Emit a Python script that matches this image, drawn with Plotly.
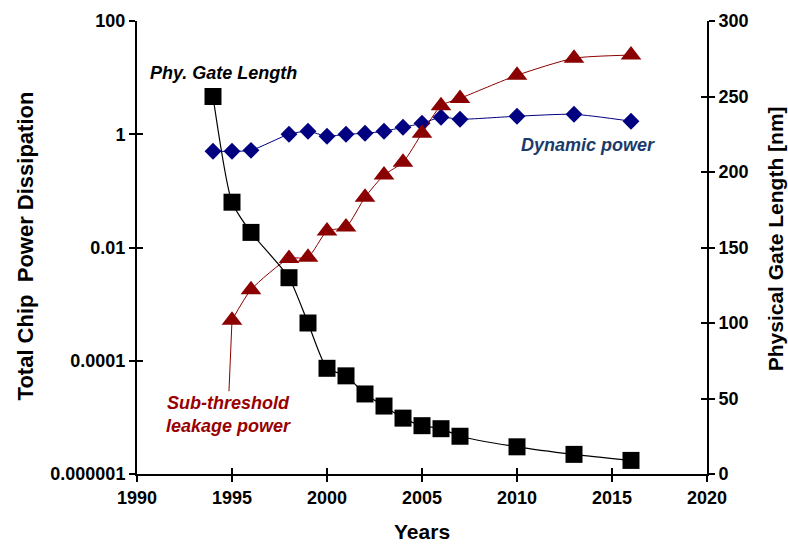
import math
import plotly.graph_objects as go

# ---------------- data ----------------
years = [1994, 1995, 1996, 1998, 1999, 2000, 2001, 2002, 2003, 2004, 2005, 2006, 2007, 2010, 2013, 2016]
gate_length_nm = [250, 180, 160, 130, 100, 70, 65, 53, 45, 37, 32, 30, 25, 18, 13, 9]
dynamic_power = [0.50, 0.50, 0.52, 1.0, 1.13, 0.92, 1.0, 1.04, 1.13, 1.33, 1.56, 2.0, 1.84, 2.08, 2.25, 1.70]
leak_years = [1995, 1996, 1998, 1999, 2000, 2001, 2002, 2003, 2004, 2005, 2006, 2007, 2010, 2013, 2016]
leakage_power = [5.2e-4, 1.8e-3, 6.4e-3, 6.7e-3, 0.0195, 0.023, 0.077, 0.19, 0.32, 1.04, 3.2, 4.3, 11, 22, 25]

left_tickvals = [1e-6, 1e-4, 1e-2, 1, 100]
left_ticktext = ["0.000001", "0.0001", "0.01", "1", "100"]

FONT = "Liberation Sans, Arial, sans-serif"
NAVY = "#000080"
DRED = "#8B0000"

fig = go.Figure()

fig.add_trace(go.Scatter(
    x=years, y=dynamic_power, mode="lines+markers", yaxis="y", xaxis="x",
    line=dict(color=NAVY, width=1, shape="spline", smoothing=0.6),
    marker=dict(symbol="diamond", size=13, color=NAVY),
    showlegend=False))

fig.add_trace(go.Scatter(
    x=leak_years, y=leakage_power, mode="lines+markers", yaxis="y", xaxis="x",
    line=dict(color=DRED, width=1, shape="spline", smoothing=0.6),
    marker=dict(symbol="triangle-up", size=18, color=DRED),
    showlegend=False))

fig.add_trace(go.Scatter(
    x=years, y=gate_length_nm, mode="lines+markers", yaxis="y2", xaxis="x",
    line=dict(color="black", width=1.2, shape="spline", smoothing=0.6),
    marker=dict(symbol="square", size=17, color="black"),
    showlegend=False))

# invisible traces so that the inner-tick overlay axes are drawn
fig.add_trace(go.Scatter(x=[None], y=[None], xaxis="x2", yaxis="y3",
                         showlegend=False, hoverinfo="skip"))
fig.add_trace(go.Scatter(x=[None], y=[None], xaxis="x2", yaxis="y4",
                         showlegend=False, hoverinfo="skip"))

tickfont = dict(family=FONT, size=18, color="black", weight="bold")
common_tick = dict(ticklen=6, tickwidth=1.5, tickcolor="black", showgrid=False, zeroline=False)

fig.update_layout(
    width=788, height=544,
    margin=dict(l=137, r=81, t=21, b=70),
    paper_bgcolor="white", plot_bgcolor="white",
    xaxis=dict(range=[1990, 2020], tick0=1990, dtick=5, ticks="outside", showline=True,
               linecolor="black", linewidth=2, tickfont=tickfont, anchor="y", **common_tick),
    xaxis2=dict(overlaying="x", matches="x", anchor="y", side="bottom", ticks="inside",
                showticklabels=False, showline=False, tick0=1990, dtick=5, **common_tick),
    yaxis=dict(type="log", range=[-6, 2], tickvals=left_tickvals, ticktext=left_ticktext,
               ticks="outside", showline=True, linecolor="black", linewidth=2,
               tickfont=tickfont, side="left", **common_tick),
    yaxis3=dict(type="log", overlaying="y", matches="y", side="left", ticks="inside",
                tickvals=left_tickvals, showticklabels=False, showline=False, **common_tick),
    yaxis2=dict(overlaying="y", side="right", range=[0, 300], tick0=0, dtick=50,
                ticks="outside", showline=True, linecolor="black", linewidth=2,
                tickfont=tickfont, **common_tick),
    yaxis4=dict(overlaying="y", matches="y2", side="right", ticks="inside",
                tick0=0, dtick=50, showticklabels=False, showline=False, **common_tick),
)

title_font = dict(family=FONT, size=21, color="black", weight="bold")
lab_font = dict(family=FONT, size=18, style="italic", weight="bold")

annotations = [
    dict(text="Years", xref="paper", yref="paper", x=0.5, y=-0.127, xanchor="center",
         yanchor="middle", showarrow=False, font=title_font),
    dict(text="Total Chip\u00a0 Power Dissipation", xref="paper", yref="paper",
         x=-0.196, y=0.503, textangle=-90, xanchor="center", yanchor="middle",
         showarrow=False, font=dict(title_font, size=22)),
    dict(text="Physical Gate Length [nm]", xref="paper", yref="paper",
         x=1.12, y=0.519, textangle=-90, xanchor="center", yanchor="middle",
         showarrow=False, font=title_font),
    dict(text="Phy. Gate Length", xref="x", yref="y2", x=1994.53, y=265.6,
         showarrow=False, font=dict(lab_font, color="black")),
    dict(text="Dynamic power", xref="x", yref="y2", x=2013.74, y=217.9,
         showarrow=False, font=dict(lab_font, color="#1B3A6B")),
    dict(text="Sub-threshold<br>leakage power", xref="x", yref="y",
         x=leak_years[0], y=math.log10(leakage_power[0]), ax=-4, ay=94,
         showarrow=True, arrowhead=0, arrowwidth=1, arrowcolor=DRED, standoff=0,
         align="center", font=dict(lab_font, color="#990000")),
]
fig.update_layout(annotations=annotations)

fig.write_html("out.html")
